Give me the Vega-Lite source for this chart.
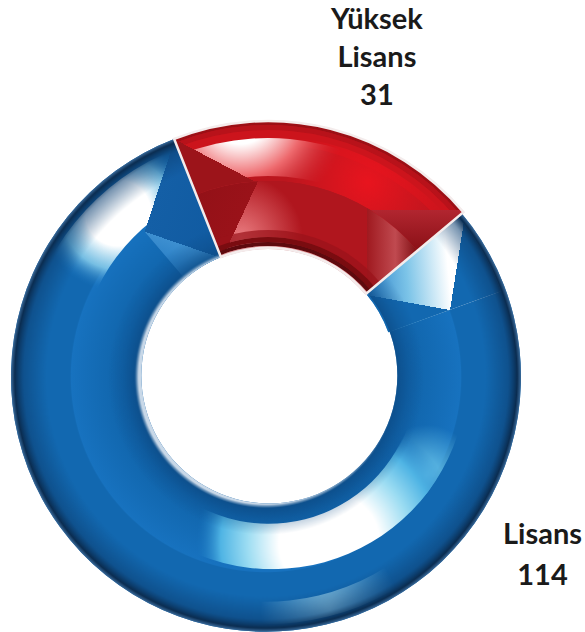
{"$schema":"https://vega.github.io/schema/vega-lite/v6.json","width":536,"height":510,"autosize":"none","padding":{"left":0,"top":121,"right":49,"bottom":1},"background":"white","view":{"stroke":null},"resolve":{"scale":{"theta":"independent"}},
"data":{"values":[{"egitim":"Yüksek Lisans","deger":31,"etiket":"Yüksek\nLisans\n31"},{"egitim":"Lisans","deger":114,"etiket":"Lisans\n114"}]},
"transform":[{"stack":"deger","groupby":[],"sort":[{"field":"egitim","order":"descending"}],"as":["start","end"]}],
"encoding":{"theta":{"field":"start","type":"quantitative","scale":{"domain":[0,31,145],"range":[-0.377,0.873,5.906]}},"theta2":{"field":"end"}},
"layer":[
{"transform":[{"filter":"datum.egitim==='Lisans'"}],"encoding":{"theta":{"field":"start","type":"quantitative","scale":{"domain":[31,145],"range":[-0.377,5.906]}}},
 "layer":[
 {"mark":{"type":"arc","radius":255,"radius2":128,"fill":{"gradient":"radial","x1":0.5,"y1":0.5,"r1":0,"x2":0.5,"y2":0.5,"r2":0.5,"stops":[{"offset":0.5,"color":"#0f62aa"},{"offset":0.62,"color":"#1268b0"},{"offset":0.764,"color":"#1772bf"},{"offset":0.768,"color":"#1268b0"},{"offset":1,"color":"#1268b0"}]}}},
 {"mark":{"type":"arc","radius":195,"radius2":150,"fill":{"gradient":"radial","x1":0.895,"y1":0.76,"r1":0,"x2":0.895,"y2":0.76,"r2":0.13,"stops":[{"offset":0,"color":"#6cc8ec"},{"offset":1,"color":"rgba(108,200,236,0)"}]}}},
 {"mark":{"type":"arc","radius":248,"radius2":225,"fill":{"gradient":"radial","x1":0.625,"y1":0.972,"r1":0,"x2":0.625,"y2":0.972,"r2":0.14,"stops":[{"offset":0,"color":"#b4e6f6"},{"offset":1,"color":"#1268b0"}]},"fillOpacity":0.75}},
 {"mark":{"type":"arc","radius":195,"radius2":148,"fill":{"gradient":"radial","x1":0.646,"y1":0.933,"r1":0,"x2":0.646,"y2":0.933,"r2":0.34,"stops":[{"offset":0,"color":"#ffffff"},{"offset":0.38,"color":"#ffffff"},{"offset":0.62,"color":"#9bdcf2"},{"offset":0.82,"color":"#4fb4e4"},{"offset":1,"color":"rgba(26,120,196,0)"}]}}},
 {"mark":{"type":"arc","radius":245,"radius2":195,"fill":{"gradient":"radial","x1":0.2,"y1":0.165,"r1":0,"x2":0.2,"y2":0.165,"r2":0.16,"stops":[{"offset":0,"color":"#ffffff"},{"offset":0.42,"color":"#ffffff"},{"offset":0.72,"color":"rgba(143,212,240,0.8)"},{"offset":1,"color":"rgba(27,120,196,0)"}]}}}
 ]},
{"transform":[{"filter":"datum.egitim==='Lisans'"}],"encoding":{"theta":{"field":"start","type":"quantitative","scale":{"domain":[31,145],"range":[0.873,1.222]}}},
 "layer":[
 {"mark":{"type":"arc","radius":248,"radius2":128,"fill":{"gradient":"linear","x1":0,"y1":0.65,"x2":0.62,"y2":0.6,"stops":[{"offset":0,"color":"#2a80c8"},{"offset":0.5,"color":"#7cc4e8"},{"offset":1,"color":"#ffffff"}]}}},
 {"mark":{"type":"arc","radius":248,"radius2":128,"fill":{"gradient":"linear","x1":0.215,"y1":-0.3,"x2":-0.2,"y2":1.656,"stops":[{"offset":0,"color":"rgba(18,104,176,0)"},{"offset":0.5,"color":"rgba(18,104,176,0)"},{"offset":0.5,"color":"#1268b0"},{"offset":1,"color":"#1268b0"}]}}},
 {"mark":{"type":"arc","radius":248,"radius2":128,"fill":{"gradient":"linear","x1":-0.369,"y1":0.676,"x2":1.613,"y2":0.942,"stops":[{"offset":0,"color":"rgba(18,104,176,0)"},{"offset":0.5,"color":"rgba(18,104,176,0)"},{"offset":0.5,"color":"#1268b0"},{"offset":1,"color":"#1268b0"}]}}}
 ]},
{"transform":[{"filter":"datum.egitim==='Lisans'"}],"encoding":{"theta":{"field":"start","type":"quantitative","scale":{"domain":[31,145],"range":[5.576,5.906]}}},
 "layer":[
 {"mark":{"type":"arc","radius":250,"radius2":128,"fill":{"gradient":"linear","x1":-0.595,"y1":0.295,"x2":1.273,"y2":1.009,"stops":[{"offset":0,"color":"rgba(14,88,158,0)"},{"offset":0.5,"color":"rgba(14,88,158,0)"},{"offset":0.5,"color":"#145fa6"},{"offset":1,"color":"#0e589e"}]}}},
 {"mark":{"type":"arc","radius":250,"radius2":128,"fill":{"gradient":"linear","x1":0.621,"y1":-0.307,"x2":0.057,"y2":1.611,"stops":[{"offset":0,"color":"rgba(61,143,208,0)"},{"offset":0.5,"color":"rgba(61,143,208,0)"},{"offset":0.5,"color":"#3d8fd0"},{"offset":0.68,"color":"#1670bc"},{"offset":1,"color":"#1670bc"}]}}}
 ]},
{"transform":[{"filter":"datum.egitim==='Lisans'"}],"encoding":{"theta":{"field":"start","type":"quantitative","scale":{"domain":[31,145],"range":[-0.377,5.906]}}},
 "mark":{"type":"arc","radius":255,"radius2":128,"fill":{"gradient":"radial","x1":0.5,"y1":0.5,"r1":0,"x2":0.5,"y2":0.5,"r2":0.5,"stops":[{"offset":0.5,"color":"#c8d8e8"},{"offset":0.515,"color":"rgba(12,74,132,0.75)"},{"offset":0.56,"color":"rgba(12,74,132,0.35)"},{"offset":0.62,"color":"rgba(12,74,132,0)"},{"offset":0.86,"color":"rgba(12,63,114,0)"},{"offset":0.95,"color":"rgba(12,63,114,0.55)"},{"offset":0.985,"color":"#0a2c50"},{"offset":1,"color":"#3a6a9a"}]}}},
{"transform":[{"filter":"datum.egitim==='Yüksek Lisans'"}],
 "layer":[
 {"mark":{"type":"arc","radius":255,"radius2":128,"fill":"#a8161e"}},
 {"mark":{"type":"arc","radius":255,"radius2":195,"fill":"#bb161e"}},
 {"mark":{"type":"arc","radius":255,"radius2":251,"fill":"#9c0f15"}},
 {"mark":{"type":"arc","radius":251,"radius2":246,"fill":"#b8121a"}},
 {"mark":{"type":"arc","radius":246,"radius2":232,"fill":"#cc141c"}},
 {"mark":{"type":"arc","radius":240,"radius2":195,"fill":{"gradient":"radial","x1":0.69,"y1":0.46,"r1":0,"x2":0.69,"y2":0.46,"r2":0.3,"stops":[{"offset":0,"color":"#e8141e"},{"offset":1,"color":"rgba(232,20,30,0)"}]}}},
 {"mark":{"type":"arc","radius":238,"radius2":200,"fill":{"gradient":"radial","x1":0.222,"y1":0.2,"r1":0,"x2":0.222,"y2":0.2,"r2":0.4,"stops":[{"offset":0,"color":"#ffffff"},{"offset":0.3,"color":"#ffffff"},{"offset":0.6,"color":"#ee6a6e"},{"offset":1,"color":"rgba(208,32,42,0)"}]}}},
 {"mark":{"type":"arc","radius":255,"radius2":195,"fill":{"gradient":"linear","x1":0.764,"y1":-0.506,"x2":-0.758,"y2":0.792,"stops":[{"offset":0,"color":"rgba(156,20,26,0)"},{"offset":0.5,"color":"rgba(156,20,26,0)"},{"offset":0.5,"color":"#9c141a"},{"offset":1,"color":"#9c141a"}]}}},
 {"mark":{"type":"arc","radius":255,"radius2":195,"fill":{"gradient":"linear","x1":0,"y1":0,"x2":0,"y2":1,"stops":[{"offset":0,"color":"rgba(178,38,48,0)"},{"offset":0.684,"color":"rgba(178,38,48,0)"},{"offset":0.684,"color":"#b22630"},{"offset":1,"color":"#8a1016"}]}}},
 {"mark":{"type":"arc","radius":195,"radius2":128,"fill":{"gradient":"radial","x1":0.2,"y1":0.5,"r1":0,"x2":0.2,"y2":0.5,"r2":0.28,"stops":[{"offset":0,"color":"#ea7c80"},{"offset":1,"color":"#b0161e"}]}}},
 {"mark":{"type":"arc","radius":195,"radius2":128,"fill":{"gradient":"linear","x1":1.104,"y1":0.859,"x2":-0.842,"y2":0.397,"stops":[{"offset":0,"color":"rgba(154,18,25,0)"},{"offset":0.5,"color":"rgba(154,18,25,0)"},{"offset":0.5,"color":"#9a1219"},{"offset":1,"color":"#7e0e12"}]}}},
 {"mark":{"type":"arc","radius":195,"radius2":128,"fill":{"gradient":"linear","x1":0,"y1":0,"x2":1,"y2":0,"stops":[{"offset":0,"color":"rgba(160,26,32,0)"},{"offset":0.774,"color":"rgba(160,26,32,0)"},{"offset":0.774,"color":"#a01a20"},{"offset":0.9,"color":"#c04a50"},{"offset":1,"color":"#7e0e12"}]}}},
 {"mark":{"type":"arc","radius":146,"radius2":139,"fill":"#9a1219","fillOpacity":0.7}},
 {"mark":{"type":"arc","radius":139,"radius2":134,"fill":"#7a0c10"}},
 {"mark":{"type":"arc","radius":134,"radius2":130,"fill":"#5e0a0e"}},
 {"mark":{"type":"arc","radius":130,"radius2":127,"fill":"#d89a9c"}},
 {"mark":{"type":"arc","radius":255,"radius2":128,"fill":null,"stroke":"#f4ecec","strokeWidth":2.5}}
 ]},
{"transform":[{"filter":"datum.egitim==='Yüksek Lisans'"}],"encoding":{"theta":{"field":"end","type":"quantitative","scale":{"domain":[0,31,145],"range":[-0.377,0.873,5.906]}},"theta2":null,"text":{"field":"etiket","type":"nominal"}},
 "mark":{"type":"text","radius":300,"dx":-121,"dy":-163,"align":"center","baseline":"middle","lineBreak":"\n","lineHeight":38,"font":"Lato","fontWeight":"bold","fontSize":29,"fill":"#1a1a1a"}},
{"transform":[{"filter":"datum.egitim==='Lisans'"}],"encoding":{"theta":{"field":"end","type":"quantitative","scale":{"domain":[0,31,145],"range":[-0.377,0.873,5.906]}},"theta2":null,"text":{"field":"etiket","type":"nominal"}},
 "mark":{"type":"text","radius":300,"dx":385,"dy":438,"align":"center","baseline":"middle","lineBreak":"\n","lineHeight":41,"font":"Lato","fontWeight":"bold","fontSize":29,"fill":"#1a1a1a"}}
]}
